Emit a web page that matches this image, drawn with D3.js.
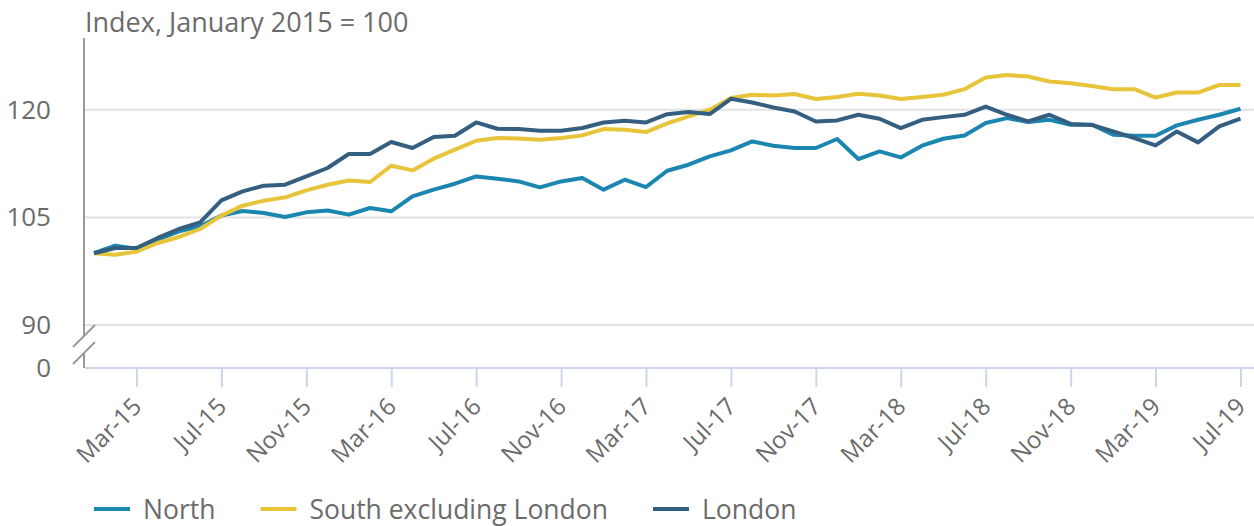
<!DOCTYPE html>
<html>
<head>
<meta charset="utf-8">
<script src="https://cdn.jsdelivr.net/npm/d3@7"></script>
<style>
  body { margin: 0; background: #fff; }
  svg { display: block; font-family: "Open Sans", sans-serif; }
</style>
</head>
<body>
<svg id="chart" width="1254" height="526"></svg>
<script>
// monthly index, Jan 2015 .. Jul 2019 (55 points)
var north = [100, 101.06, 100.64, 101.89, 103.05, 103.75, 105.24, 105.89, 105.61, 105.06,
  105.7, 105.97, 105.38, 106.31, 105.84, 107.92, 108.86, 109.69, 110.71, 110.39,
  110.01, 109.18, 110.01, 110.49, 108.86, 110.25, 109.23, 111.5, 112.34, 113.5,
  114.33, 115.58, 114.99, 114.67, 114.67, 115.92, 113.13, 114.19, 113.36, 114.99,
  115.96, 116.4, 118.15, 118.84, 118.29, 118.61, 117.91, 117.91, 116.52, 116.38,
  116.38, 117.82, 118.61, 119.3, 120.14]
var south = [100, 99.8, 100.22, 101.43, 102.27, 103.38, 105.24, 106.63, 107.33, 107.79,
  108.76, 109.55, 110.15, 109.93, 112.2, 111.55, 113.18, 114.43, 115.68, 116.06,
  116.0, 115.82, 116.06, 116.42, 117.31, 117.21, 116.89, 118.1, 119.07, 120.0,
  121.63, 122.09, 121.99, 122.19, 121.49, 121.77, 122.23, 121.99, 121.49, 121.77,
  122.09, 122.87, 124.49, 124.85, 124.63, 123.93, 123.69, 123.32, 122.86, 122.86,
  121.7, 122.4, 122.4, 123.45, 123.45]
var london = [100, 100.74, 100.74, 102.13, 103.38, 104.3, 107.37, 108.62, 109.42, 109.55,
  110.71, 111.88, 113.83, 113.83, 115.5, 114.67, 116.2, 116.38, 118.23, 117.35,
  117.31, 117.08, 117.08, 117.45, 118.23, 118.47, 118.23, 119.38, 119.68, 119.4,
  121.53, 121.02, 120.32, 119.76, 118.37, 118.51, 119.3, 118.75, 117.45, 118.6,
  118.97, 119.3, 120.45, 119.3, 118.37, 119.3, 118.02, 117.88, 116.98, 116.06,
  115.03, 116.98, 115.45, 117.67, 118.75]

var seriesNames = ["North", "South excluding London", "London"]
var seriesColors = ["#1b87b0", "#e8c43a", "#355f80"]
var tickMonths = [2, 6, 10, 14, 18, 22, 26, 30, 34, 38, 42, 46, 50, 54]
var tickLabels = ["Mar-15", "Jul-15", "Nov-15", "Mar-16", "Jul-16", "Nov-16", "Mar-17",
  "Jul-17", "Nov-17", "Mar-18", "Jul-18", "Nov-18", "Mar-19", "Jul-19"]
var yTicks = [0, 90, 105, 120]

var svg = d3.select('#chart')
var textColor = '#6b6b6b'

var x = d3.scaleLinear().domain([0, 54]).range([94, 1240.5])
// broken axis: 0 sits just under 90
var y = d3.scaleLinear().domain([0, 90, 130]).range([368, 325, 38])

// title
svg.append('text')
  .attr('x', 85).attr('y', 32)
  .attr('fill', textColor)
  .style('font-size', '27px')
  .text('Index, January 2015 = 100')

// gridlines
svg.append('g').selectAll('line')
  .data(yTicks.filter(d => d > 0))
  .enter().append('line')
  .attr('x1', 85).attr('x2', 1254)
  .attr('y1', d => y(d)).attr('y2', d => y(d))
  .attr('stroke', '#e3e3e3')
  .attr('stroke-width', 2)

// y labels
svg.append('g').selectAll('text')
  .data(yTicks)
  .enter().append('text')
  .attr('x', 51)
  .attr('y', d => y(d) + 9)
  .attr('text-anchor', 'end')
  .attr('fill', textColor)
  .style('font-size', '26px')
  .text(d => d)

// y axis line with break
var ax = svg.append('g').attr('stroke', '#9a9a9a').attr('stroke-width', 2)
ax.append('line').attr('x1', 84).attr('x2', 84).attr('y1', 38).attr('y2', 336)
ax.append('line').attr('x1', 84).attr('x2', 84).attr('y1', 353).attr('y2', 368)
ax.append('line').attr('x1', 73).attr('y1', 347).attr('x2', 95).attr('y2', 325)
ax.append('line').attr('x1', 73).attr('y1', 364).attr('x2', 95).attr('y2', 342)

// x axis
var xAxis = d3.axisBottom(x)
  .tickValues(tickMonths)
  .tickFormat((d, i) => tickLabels[i])
  .tickSize(19)
  .tickSizeOuter(0)
var gx = svg.append('g')
  .attr('transform', 'translate(0,' + y(0) + ')')
  .call(xAxis)
gx.select('.domain').remove()
gx.append('line')
  .attr('x1', 85).attr('x2', 1254)
  .attr('stroke', '#ccd6eb').attr('stroke-width', 2)
gx.selectAll('.tick line').attr('stroke', '#ccd6eb').attr('stroke-width', 2)
gx.selectAll('.tick text')
  .attr('fill', textColor)
  .style('font-size', '24px')
  .style('font-family', '"Open Sans", sans-serif')
  .attr('text-anchor', 'end')
  .attr('dy', null)
  .attr('transform', 'translate(6,40) rotate(-45)')
  .attr('y', 0).attr('x', 0)

// lines
var line = d3.line()
  .x((d, i) => x(i))
  .y(d => y(d))

svg.append('g').selectAll('path')
  .data([north, south, london])
  .enter().append('path')
  .attr('d', d => line(d))
  .attr('fill', 'none')
  .attr('stroke', (d, i) => seriesColors[i])
  .attr('stroke-width', 4)
  .attr('stroke-linejoin', 'round')

// legend
var lg = svg.append('g')
var lx = 94
seriesNames.forEach(function(name, i) {
  lg.append('line')
    .attr('x1', lx).attr('x2', lx + 36)
    .attr('y1', 509).attr('y2', 509)
    .attr('stroke', seriesColors[i])
    .attr('stroke-width', 4)
  var t = lg.append('text')
    .attr('x', lx + 49).attr('y', 519)
    .attr('fill', textColor)
    .style('font-size', '26.5px')
    .text(name)
  lx = lx + 49 + t.node().getComputedTextLength() + 45
})
</script>
</body>
</html>
